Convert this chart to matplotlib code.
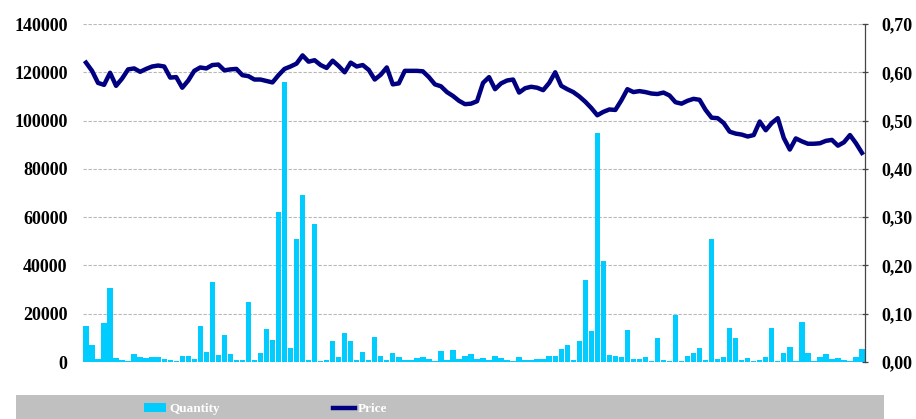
import matplotlib
matplotlib.use('Agg')
import matplotlib.pyplot as plt
import numpy as np
from matplotlib.patches import Rectangle
from matplotlib.ticker import FuncFormatter

# Daily traded quantity (bars, left axis)
quantity = [15000, 6900, 1400, 16300, 30800, 1500, 800, 500, 3200, 2000,
            1700, 2000, 2000, 1200, 800, 600, 2300, 2300, 1400, 15000,
            4000, 33000, 3000, 11000, 3400, 800, 700, 25000, 700, 3600,
            13700, 9000, 62000, 116000, 5900, 51000, 69000, 800, 57000, 600,
            700, 8800, 2000, 12100, 8500, 800, 4000, 800, 10200, 2500,
            800, 3800, 2000, 800, 800, 1500, 2000, 1100, 400, 4600,
            800, 4800, 1200, 2300, 3500, 1100, 1500, 800, 2300, 1500,
            800, 500, 2200, 700, 800, 1100, 1100, 2300, 2500, 5500,
            7000, 800, 8800, 34000, 12800, 95000, 42000, 2900, 2300, 2200,
            13100, 1400, 1100, 2200, 500, 10000, 800, 500, 19600, 500,
            2300, 3600, 5600, 800, 51000, 1100, 2000, 14000, 9800, 800,
            1600, 500, 800, 2200, 14200, 500, 3600, 6300, 500, 16400,
            3800, 500, 2000, 3400, 1100, 1600, 800, 500, 2200, 5500]

# Closing price (line, right axis)
price = [0.620, 0.603, 0.578, 0.574, 0.599, 0.572, 0.587, 0.606, 0.608, 0.601,
         0.607, 0.612, 0.614, 0.612, 0.589, 0.590, 0.568, 0.583, 0.603, 0.610,
         0.608, 0.615, 0.616, 0.604, 0.606, 0.607, 0.594, 0.592, 0.585, 0.585,
         0.582, 0.579, 0.594, 0.607, 0.612, 0.618, 0.635, 0.622, 0.625, 0.615,
         0.609, 0.624, 0.613, 0.600, 0.620, 0.612, 0.615, 0.605, 0.585, 0.595,
         0.610, 0.575, 0.577, 0.603, 0.603, 0.603, 0.602, 0.590, 0.575, 0.571,
         0.559, 0.551, 0.541, 0.534, 0.535, 0.540, 0.578, 0.590, 0.565, 0.577,
         0.583, 0.585, 0.558, 0.567, 0.570, 0.568, 0.563, 0.578, 0.600, 0.572,
         0.565, 0.559, 0.550, 0.539, 0.526, 0.511, 0.518, 0.523, 0.522, 0.542,
         0.565, 0.559, 0.561, 0.559, 0.556, 0.555, 0.558, 0.552, 0.538, 0.535,
         0.541, 0.545, 0.543, 0.522, 0.506, 0.505, 0.495, 0.477, 0.473, 0.471,
         0.467, 0.470, 0.498, 0.480, 0.495, 0.505, 0.464, 0.440, 0.463, 0.457,
         0.452, 0.452, 0.453, 0.458, 0.460, 0.448, 0.455, 0.470, 0.453, 0.433]

left_ticks = [0, 20000, 40000, 60000, 80000, 100000, 120000, 140000]
right_ticks = [0.0, 0.1, 0.2, 0.3, 0.4, 0.5, 0.6, 0.7]

bar_color = '#00ccff'
line_color = '#000080'
serif = ['Liberation Serif', 'DejaVu Serif']

fig = plt.figure(figsize=(9.16, 4.19), dpi=100)
ax = fig.add_axes([83/916, 57/419, 782/916, 338/419])

x = np.arange(len(quantity))
bars = ax.bar(x, quantity, width=0.9, color=bar_color, zorder=2)
ax.set_xlim(-0.5, len(quantity) - 0.5)
ax.set_ylim(0, 140000)
ax.set_yticks(left_ticks)
ax.set_xticks([])
ax.yaxis.grid(True, color='#b8b8b8', linestyle=(0, (3, 1.5)), linewidth=0.8, zorder=0)
ax.set_axisbelow(True)
ax.tick_params(axis='y', length=0, pad=11)
for s in ['left', 'top', 'bottom', 'right']:
    ax.spines[s].set_visible(False)
for lbl in ax.get_yticklabels():
    lbl.set_family(serif)
    lbl.set_fontweight('bold')
    lbl.set_fontsize(13)

ax2 = ax.twinx()
line, = ax2.plot(x, price, color=line_color, linewidth=3.2, solid_joinstyle='round')
ax2.set_ylim(0, 0.70)
ax2.set_yticks(right_ticks)
ax2.yaxis.set_major_formatter(FuncFormatter(lambda v, p: f'{v:.2f}'.replace('.', ',')))
for s in ['left', 'top', 'bottom']:
    ax2.spines[s].set_visible(False)
ax2.spines['right'].set_color('#444444')
ax2.spines['right'].set_linewidth(0.9)
ax2.tick_params(axis='y', direction='inout', length=5, width=0.9, color='#444444', pad=9)
for lbl in ax2.get_yticklabels():
    lbl.set_family(serif)
    lbl.set_fontweight('bold')
    lbl.set_fontsize(13)

# gray legend band
fig.patches.append(Rectangle((16/916, 0), 868/916, 24/419, transform=fig.transFigure,
                             facecolor='#c0c0c0', edgecolor='none', zorder=0))
leg = fig.legend([bars, line], ['Quantity', 'Price'], loc='center left',
                 bbox_to_anchor=(132/916, 10/419), ncol=2, frameon=False,
                 handlelength=1.7, handletextpad=0.2, columnspacing=8.6,
                 prop={'family': serif, 'weight': 'bold', 'size': 9.5})
for t in leg.get_texts():
    t.set_color('white')

fig.savefig('out.png', dpi=100)
